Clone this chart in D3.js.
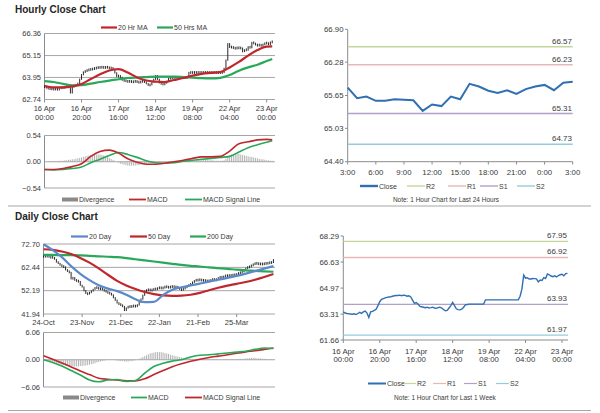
<!DOCTYPE html>
<html><head><meta charset="utf-8">
<script src="https://cdn.jsdelivr.net/npm/d3@7"></script>
<style>
body{margin:0;background:#fff;}
svg text{font-family:"Liberation Sans",Arial,sans-serif;fill:#3a3a3a;}
</style></head><body>
<svg id="chart" width="600" height="413"></svg>
<script>
// ---------------- data ----------------
// hourly closes, 16 Apr 00:00 -> 23 Apr 03:00 (trading hours only)
const hourlyClose = [63.45,63.38,63.35,63.33,63.32,63.30,63.33,63.28,63.35,63.42,
 63.36,63.45,63.50,63.38,63.10,63.45,63.48,63.55,63.62,63.85,
 64.10,64.25,64.30,64.35,64.38,64.40,64.42,64.45,64.48,64.50,
 64.50,64.52,64.48,64.52,64.50,64.45,64.48,64.40,64.20,64.00,
 64.05,63.95,63.80,63.78,63.75,63.72,63.75,63.70,63.72,63.75,
 63.70,63.68,63.72,63.75,63.70,63.60,63.52,63.55,63.70,63.85,
 64.05,63.85,63.65,63.60,63.58,63.62,63.75,63.90,63.92,63.95,
 63.95,63.95,63.95,63.95,63.95,63.95,63.95,63.95,64.22,64.22,
 64.22,64.22,64.22,64.22,64.22,64.22,64.22,64.22,64.22,64.22,
 64.22,64.22,64.22,64.22,64.22,64.22,64.22,64.45,64.90,65.80,
 65.60,65.63,65.55,65.55,65.58,65.57,65.56,65.36,65.48,65.45,
 65.63,65.58,65.87,65.82,65.74,65.70,65.75,65.68,65.77,65.82,
 65.85,65.75,65.89,65.91];
const hourlyDivergence = [0.00,0.00,0.01,0.01,0.01,0.01,0.01,0.01,0.02,0.02,
 0.02,0.03,0.03,0.04,0.04,0.05,0.05,0.06,0.07,0.08,
 0.09,0.10,0.11,0.12,0.13,0.14,0.14,0.15,0.15,0.15,
 0.15,0.14,0.13,0.12,0.10,0.08,0.06,0.04,0.02,0.00,
 -0.02,-0.04,-0.05,-0.06,-0.07,-0.08,-0.08,-0.08,-0.08,-0.08,
 -0.07,-0.07,-0.06,-0.05,-0.05,-0.04,-0.03,-0.03,-0.02,-0.02,
 -0.01,-0.01,-0.01,0.00,0.00,0.00,0.00,0.01,0.01,0.01,
 0.01,0.01,0.01,0.02,0.02,0.02,0.02,0.03,0.03,0.03,
 0.03,0.03,0.04,0.04,0.04,0.04,0.04,0.04,0.03,0.03,
 0.03,0.03,0.02,0.02,0.02,0.02,0.02,0.03,0.06,0.10,
 0.13,0.15,0.16,0.17,0.17,0.16,0.15,0.14,0.13,0.12,
 0.11,0.10,0.10,0.09,0.08,0.07,0.06,0.05,0.05,0.04,
 0.03,0.03,0.02,0.02];
const hourlySampleIdx = [0,5,10,15,20,25,30,35,40,45,50,55,60,65,70,75,80,85,90,95,100,105,110,115,120,123];
const ma20Hr   = [63.48,63.40,63.40,63.46,63.59,63.86,64.12,64.33,64.41,64.22,63.95,63.78,63.72,63.70,63.81,63.92,64.05,64.15,64.20,64.25,64.50,64.80,65.15,65.45,65.64,65.65];
const ma50Hr   = [63.75,63.70,63.60,63.52,63.53,63.61,63.70,63.78,63.85,63.92,63.95,63.97,63.99,63.99,63.99,63.97,63.94,63.91,63.90,63.93,64.08,64.32,64.50,64.65,64.85,64.96];
const macdHr   = [-0.16,-0.16,-0.14,-0.10,-0.04,0.11,0.21,0.24,0.18,0.06,-0.01,-0.05,-0.05,-0.03,0.00,0.03,0.07,0.10,0.10,0.11,0.22,0.37,0.41,0.45,0.46,0.45];
const signalHr = [-0.16,-0.17,-0.16,-0.14,-0.11,-0.02,0.05,0.13,0.19,0.15,0.09,0.02,-0.02,-0.03,-0.02,0.01,0.03,0.05,0.07,0.09,0.11,0.20,0.29,0.35,0.40,0.43];
const hourlyTickIdx  = [0,20,40,60,80,100,120];
const hourlyTickDay  = ['16 Apr','16 Apr','17 Apr','18 Apr','19 Apr','22 Apr','23 Apr'];
const hourlyTickTime = ['00:00','20:00','16:00','12:00','08:00','04:00','00:00'];
const hourlyYTicks = [62.74,63.95,65.15,66.36];
const hourlyMacdTicks = [-0.54,0,0.54];

// last 24 hours chart
const dayTickLabels = ['3:00','6:00','9:00','12:00','15:00','18:00','21:00','0:00','3:00'];
const dayYTicks = [64.40,65.03,65.65,66.28,66.90];
const dayLevels = [66.57,66.23,65.31,64.73];
const weekLevels = [67.95,66.92,63.93,61.97];
const levelNames = ['R2','R1','S1','S2'];
const weekYTicks = [61.66,63.31,64.97,66.63,68.29];

// daily closes, 24-Oct -> 23-Apr
const dailyClose = [67.4,67.2,67.6,67.0,66.8,66.9,65.9,64.8,64.2,63.4,
 62.9,62.6,61.4,60.7,60.2,57.4,57.9,56.8,56.5,56.2,
 54.6,53.8,52.2,51.0,50.7,51.5,51.9,52.9,53.4,53.7,
 52.8,53.3,52.6,52.2,51.7,51.2,51.0,50.3,49.1,48.0,
 46.8,46.2,45.9,45.2,43.5,44.6,45.3,45.1,45.4,45.5,
 45.3,45.9,47.1,48.5,50.2,52.0,52.4,52.7,52.3,52.6,
 53.0,52.8,53.3,53.6,53.2,53.5,54.0,53.8,53.6,53.9,
 54.1,53.7,53.9,53.4,52.9,52.5,53.1,53.6,54.2,54.6,
 55.3,55.9,56.5,57.0,56.7,57.2,56.5,56.9,56.3,56.6,
 56.4,56.9,57.3,56.8,57.2,57.8,58.2,58.0,58.4,58.9,
 58.6,59.0,58.7,59.3,59.0,59.5,59.9,60.2,60.4,61.3,
 62.1,62.5,62.8,63.3,63.8,64.3,64.1,63.9,64.0,63.8,
 64.2,64.1,64.4,64.5,64.6,65.8];
const dailyDivergence = [-0.1,-0.2,-0.3,-0.4,-0.5,-0.6,-0.7,-0.8,-0.9,-1.0,
 -1.1,-1.2,-1.3,-1.4,-1.4,-1.5,-1.5,-1.5,-1.5,-1.5,
 -1.4,-1.4,-1.3,-1.3,-1.2,-1.1,-1.0,-0.9,-0.8,-0.6,
 -0.5,-0.4,-0.3,-0.2,-0.1,0.0,0.1,0.1,0.0,-0.1,
 -0.2,-0.3,-0.3,-0.3,-0.4,-0.4,-0.4,-0.3,-0.3,-0.2,
 -0.1,0.0,0.2,0.4,0.6,0.8,1.0,1.2,1.4,1.5,
 1.6,1.7,1.7,1.7,1.7,1.6,1.5,1.4,1.3,1.1,
 1.0,0.9,0.8,0.7,0.6,0.5,0.4,0.4,0.3,0.3,
 0.3,0.2,0.2,0.2,0.2,0.1,0.1,0.1,0.1,0.1,
 0.1,0.1,0.1,0.1,0.1,0.0,0.0,0.0,0.1,0.1,
 0.1,0.1,0.1,0.1,0.1,0.1,0.2,0.2,0.2,0.2,
 0.3,0.3,0.4,0.4,0.4,0.4,0.3,0.3,0.3,0.2,
 0.2,0.2,0.1,0.1,0.1,0.1];
const dailySampleIdx = [0,5,10,15,20,25,30,35,40,45,50,55,60,65,70,75,80,85,90,95,100,105,110,115,120,125];
const ma20Day   = [72.6,70.0,66.9,63.0,59.6,56.8,54.6,53.1,52.0,50.4,48.4,47.2,47.3,50.3,52.6,53.7,54.5,55.3,56.1,57.0,57.8,58.7,59.7,60.8,61.9,63.0];
const ma50Day   = [70.4,70.1,69.4,68.3,66.6,64.5,62.0,59.2,56.5,54.5,52.9,51.6,50.7,50.1,49.9,50.0,50.4,51.2,52.4,53.5,54.4,55.2,56.0,57.0,58.2,59.5];
const ma200Day  = [67.9,67.9,67.8,67.8,67.7,67.5,67.3,67.1,66.9,66.5,66.0,65.5,65.0,64.5,64.0,63.5,63.1,62.8,62.4,62.1,61.8,61.4,61.1,60.9,60.7,60.5];
const macdDay   = [0.0,-0.6,-1.4,-2.4,-3.4,-4.5,-4.9,-4.5,-4.4,-4.8,-4.6,-3.0,-1.5,-0.8,-0.3,0.0,0.6,1.0,1.1,1.3,1.5,1.7,1.9,2.3,2.6,2.5];
const signalDay = [0.9,0.1,-0.7,-1.6,-2.5,-3.3,-4.1,-4.35,-4.5,-4.7,-4.7,-4.25,-3.3,-2.4,-1.55,-0.9,-0.35,0.1,0.5,0.8,1.1,1.45,1.75,2.0,2.3,2.6];
const dailyTickIdx = [0,21,42,63,84,105];
const dailyTickLabels = ['24-Oct','23-Nov','21-Dec','22-Jan','21-Feb','25-Mar'];
const dailyYTicks = [41.94,52.19,62.44,72.70];
const dailyMacdTicks = [-6.06,0,6.06];

// ---------------- drawing ----------------
const svg = d3.select('#chart');
const col = {red:'#c0272d', green:'#2aa85a', blue:'#5b89c9', close:'#2f6fb2',
  grid:'#a6a6a6', axis:'#8c8c8c', div:'#a0a0a0',
  R2:'#c4d79b', R1:'#e6b9b8', S1:'#b1a0c8', S2:'#93cddd'};
const f2 = d3.format('.2f');

function hline(g, x1, x2, y, c, w){
  g.append('line').attr('x1',x1).attr('x2',x2).attr('y1',y).attr('y2',y).attr('stroke',c).attr('stroke-width',w||1);
}
function vline(g, x, y1, y2, c, w){
  g.append('line').attr('x1',x).attr('x2',x).attr('y1',y1).attr('y2',y2).attr('stroke',c).attr('stroke-width',w||1);
}
function yLabels(g, y, ticks, x, fs){
  g.selectAll(null).data(ticks).join('text')
    .attr('x',x).attr('y',d=>y(d)+2.7).attr('text-anchor','end')
    .attr('font-size',fs||7.5).text(f2);
}
function legend(g, items, y){
  items.forEach(it=>{
    if (it.bar){
      g.append('rect').attr('x',it.x).attr('y',y-2).attr('width',it.w).attr('height',4).attr('fill','#8a8a8a');
    } else {
      hline(g, it.x, it.x+it.w, y, it.c, it.sw||2.2);
    }
    g.append('text').attr('x',it.x+it.w+1).attr('y',y+2.5).attr('font-size',7).text(it.t);
  });
}
// range bars from previous close to close (black ticks)
function bars(g, data, x, y){
  g.selectAll(null).data(data).join('line')
    .attr('x1',(d,i)=>x(i)).attr('x2',(d,i)=>x(i))
    .attr('y1',(d,i)=>{const a=y(i?data[i-1]:d), b=y(d); return Math.max(a,b)-Math.min(a,b)<2.5 ? (a+b)/2-1.4 : Math.min(a,b)-0.6;})
    .attr('y2',(d,i)=>{const a=y(i?data[i-1]:d), b=y(d); return Math.max(a,b)-Math.min(a,b)<2.5 ? (a+b)/2+1.4 : Math.max(a,b)+0.6;})
    .attr('stroke','#111').attr('stroke-width',0.9);
}
function sampled(g, idx, vals, x, y, c, w){
  g.append('path').datum(vals)
    .attr('d', d3.line().x((d,i)=>x(idx[i])).y(d=>y(d)).curve(d3.curveMonotoneX))
    .attr('fill','none').attr('stroke',c).attr('stroke-width',w);
}
function histogram(g, vals, x, y){
  g.selectAll(null).data(vals).join('line')
    .attr('x1',(d,i)=>x(i)).attr('x2',(d,i)=>x(i))
    .attr('y1',y(0)).attr('y2',d=>y(d))
    .attr('stroke',col.div).attr('stroke-width',0.8);
}

// titles and separators
svg.append('text').attr('x',15).attr('y',13).attr('font-size',10).attr('font-weight','bold').style('fill','#262626').text('Hourly Close Chart');
svg.append('text').attr('x',15).attr('y',219.5).attr('font-size',10).attr('font-weight','bold').style('fill','#262626').text('Daily Close Chart');
hline(svg, 8, 591, 206, '#a6a6a6', 1);
hline(svg, 8, 591, 410.5, '#a6a6a6', 1);

// ---- hourly close chart (top left)
{
  const g = svg.append('g');
  const x = d3.scaleLinear().domain([0,124.5]).range([44.5,275]);
  const y = d3.scaleLinear().domain([62.74,66.36]).range([99.5,33.5]);
  hourlyYTicks.forEach(t=>hline(g, 44.5, 275, y(t), col.grid, 1));
  vline(g, 44.5, 33.5, 99.5, col.axis);
  hourlyTickIdx.forEach(t=>vline(g, x(t), 99.5, 102.5, col.axis));
  yLabels(g, y, hourlyYTicks, 41);
  g.selectAll(null).data(hourlyTickIdx).join('text')
    .attr('x',d=>x(d)).attr('y',111).attr('text-anchor','middle').attr('font-size',7.5)
    .text((d,i)=>hourlyTickDay[i]);
  g.selectAll(null).data(hourlyTickIdx).join('text')
    .attr('x',d=>x(d)).attr('y',120).attr('text-anchor','middle').attr('font-size',7.5)
    .text((d,i)=>hourlyTickTime[i]);
  bars(g, hourlyClose, x, y);
  sampled(g, hourlySampleIdx, ma50Hr, x, y, col.green, 2.2);
  sampled(g, hourlySampleIdx, ma20Hr, x, y, col.red, 2.2);
  legend(g, [{x:101,w:16,c:col.red,t:'20 Hr MA'},{x:157,w:16,c:col.green,t:'50 Hrs MA'}], 27.5);

  // MACD panel
  const ym = d3.scaleLinear().domain([-0.54,0.54]).range([188,135.5]);
  hline(g, 44.5, 275, ym(0.54), col.grid);
  hline(g, 44.5, 275, ym(-0.54), col.grid);
  vline(g, 44.5, 135.5, 188, col.axis);
  yLabels(g, ym, hourlyMacdTicks, 41);
  histogram(g, hourlyDivergence, x, ym);
  hline(g, 44.5, 275, ym(0), col.grid);
  sampled(g, hourlySampleIdx, signalHr, x, ym, col.green, 1.6);
  sampled(g, hourlySampleIdx, macdHr, x, ym, col.red, 1.6);
  legend(g, [{x:62,w:16,bar:true,t:'Divergence'},{x:129,w:17,c:col.red,t:'MACD',sw:1.8},
    {x:185,w:17,c:col.green,t:'MACD Signal Line',sw:1.8}], 199.5);
}

// ---- last 24 hours (top right)
{
  const g = svg.append('g');
  const last = hourlyClose.slice(-25);
  const x = d3.scaleLinear().domain([0,24]).range([347.7,572.7]);
  const y = d3.scaleLinear().domain([64.40,66.90]).range([161.7,29.3]);
  vline(g, 347.7, 29.3, 161.7, col.axis);
  hline(g, 347.7, 572.7, 161.7, col.axis);
  dayYTicks.forEach(t=>hline(g, 345, 347.7, y(t), col.axis));
  dayTickLabels.forEach((t,i)=>vline(g, x(i*3), 161.7, 164.5, col.axis));
  yLabels(g, y, dayYTicks, 343.5, 7.8);
  g.selectAll(null).data(dayTickLabels).join('text')
    .attr('x',(d,i)=>x(i*3)).attr('y',174.5).attr('text-anchor','middle').attr('font-size',7.8).text(d=>d);
  dayLevels.forEach((v,i)=>{
    hline(g, 347.7, 572.7, y(v), col[levelNames[i]], 1.6);
    g.append('text').attr('x',572).attr('y',y(v)-3).attr('text-anchor','end').attr('font-size',8).text(f2(v));
  });
  g.append('path').datum(last)
    .attr('d', d3.line().x((d,i)=>x(i)).y(d=>y(d)))
    .attr('fill','none').attr('stroke',col.close).attr('stroke-width',2);
  legend(g, [{x:360,w:18,c:col.close,t:'Close',sw:2.4},{x:407,w:18,c:col.R2,t:'R2',sw:1.4},
    {x:448,w:18,c:col.R1,t:'R1',sw:1.4},{x:480,w:18,c:col.S1,t:'S1',sw:1.4},{x:517,w:18,c:col.S2,t:'S2',sw:1.4}], 186);
  g.append('text').attr('x',446).attr('y',201.5).attr('text-anchor','middle').attr('font-size',6.5).text('Note: 1 Hour Chart for Last 24 Hours');
}

// ---- daily close chart (bottom left)
{
  const g = svg.append('g');
  const x = d3.scaleLinear().domain([0,125.3]).range([43.5,274]);
  const y = d3.scaleLinear().domain([41.94,72.70]).range([314,244]);
  dailyYTicks.forEach(t=>hline(g, 43.5, 275, y(t), col.grid, 1));
  vline(g, 43.5, 244, 314, col.axis);
  dailyTickIdx.forEach(t=>vline(g, x(t), 314, 317, col.axis));
  yLabels(g, y, dailyYTicks, 40);
  g.selectAll(null).data(dailyTickIdx).join('text')
    .attr('x',d=>x(d)).attr('y',325).attr('text-anchor','middle').attr('font-size',7.5)
    .text((d,i)=>dailyTickLabels[i]);
  bars(g, dailyClose, x, y);
  sampled(g, dailySampleIdx, ma200Day, x, y, col.green, 2.2);
  sampled(g, dailySampleIdx, ma50Day, x, y, col.red, 2.2);
  sampled(g, dailySampleIdx, ma20Day, x, y, col.blue, 2.2);
  legend(g, [{x:71,w:17,c:col.blue,t:'20 Day'},{x:130,w:17,c:col.red,t:'50 Day'},{x:190,w:16,c:col.green,t:'200 Day'}], 236.5);

  const ym = d3.scaleLinear().domain([-6.06,6.06]).range([387,332.5]);
  hline(g, 43.5, 275, ym(6.06), col.grid);
  hline(g, 43.5, 275, ym(-6.06), col.grid);
  vline(g, 43.5, 332.5, 387, col.axis);
  yLabels(g, ym, dailyMacdTicks, 40);
  histogram(g, dailyDivergence, x, ym);
  hline(g, 43.5, 275, ym(0), col.grid);
  sampled(g, dailySampleIdx, signalDay, x, ym, col.red, 1.6);
  sampled(g, dailySampleIdx, macdDay, x, ym, col.green, 1.6);
  legend(g, [{x:63,w:16,bar:true,t:'Divergence'},{x:131,w:16,c:col.green,t:'MACD',sw:1.8},
    {x:185,w:17,c:col.red,t:'MACD Signal Line',sw:1.8}], 397.5);
}

// ---- last week hourly (bottom right)
{
  const g = svg.append('g');
  const x = d3.scaleLinear().domain([0,120]).range([343.3,562]);
  const y = d3.scaleLinear().domain([61.66,68.29]).range([340,236]);
  vline(g, 343.3, 236, 340, col.axis);
  hline(g, 343.3, 568, 340, col.axis);
  weekYTicks.forEach(t=>hline(g, 340.5, 343.3, y(t), col.axis));
  hourlyTickIdx.forEach(t=>vline(g, x(t), 340, 343, col.axis));
  yLabels(g, y, weekYTicks, 339, 7.8);
  g.selectAll(null).data(hourlyTickIdx).join('text')
    .attr('x',d=>x(d)).attr('y',353.5).attr('text-anchor','middle').attr('font-size',7.8)
    .text((d,i)=>hourlyTickDay[i]);
  g.selectAll(null).data(hourlyTickIdx).join('text')
    .attr('x',d=>x(d)).attr('y',362).attr('text-anchor','middle').attr('font-size',7.8)
    .text((d,i)=>hourlyTickTime[i]);
  weekLevels.forEach((v,i)=>{
    hline(g, 343.3, 568, y(v), col[levelNames[i]], 1.4);
    g.append('text').attr('x',567).attr('y',y(v)-3).attr('text-anchor','end').attr('font-size',8).text(f2(v));
  });
  g.append('path').datum(hourlyClose)
    .attr('d', d3.line().x((d,i)=>x(i)).y(d=>y(d)))
    .attr('fill','none').attr('stroke',col.close).attr('stroke-width',1.4);
  legend(g, [{x:368,w:18,c:col.close,t:'Close',sw:2},{x:404,w:12,c:col.R2,t:'R2',sw:1.2},
    {x:433,w:13,c:col.R1,t:'R1',sw:1.2},{x:464,w:13,c:col.S1,t:'S1',sw:1.2},{x:496,w:13,c:col.S2,t:'S2',sw:1.2}], 383.5);
  g.append('text').attr('x',445).attr('y',400).attr('text-anchor','middle').attr('font-size',6.5).text('Note: 1 Hour Chart for Last 1 Week');
}
</script>
</body></html>
